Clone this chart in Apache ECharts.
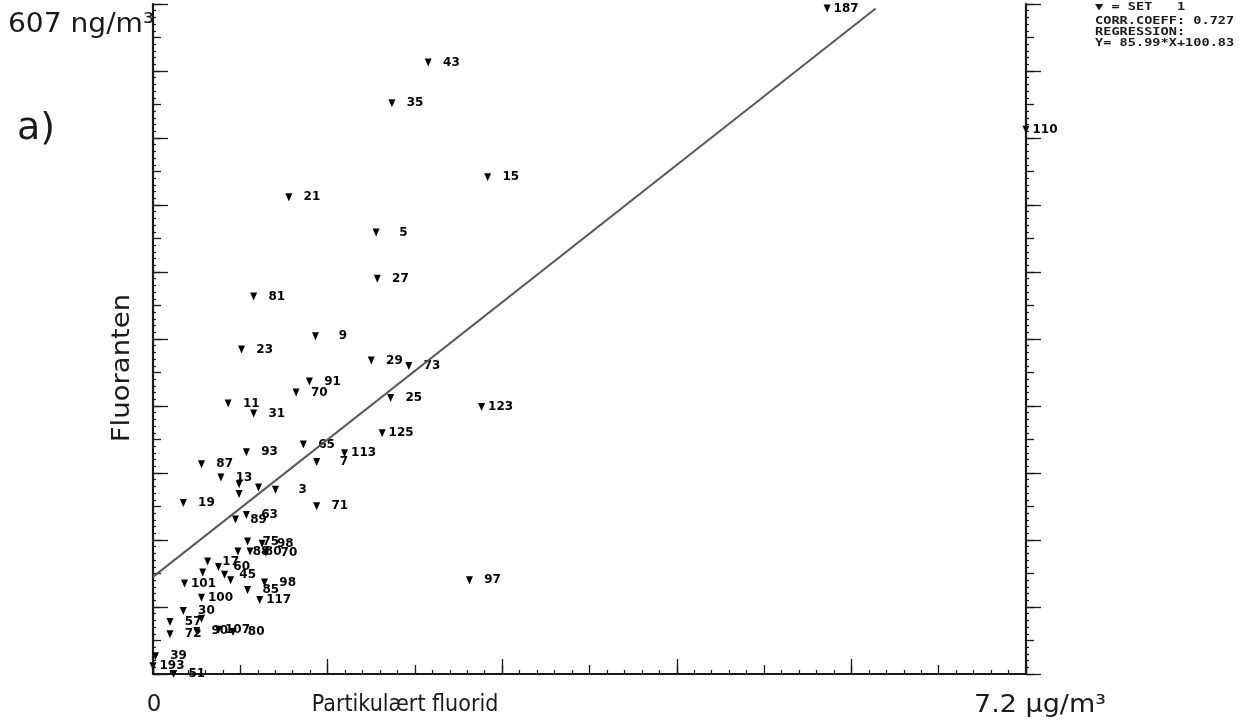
<!DOCTYPE html>
<html>
<head>
<meta charset="utf-8">
<script src="https://cdn.jsdelivr.net/npm/echarts@6/dist/echarts.min.js"></script>
<style>
  html, body { margin: 0; padding: 0; background: #ffffff; }
  #chart { width: 1250px; height: 724px; }
</style>
</head>
<body>
<div id="chart"></div>
<script>
// ---- data ----
const pointLabels = ["187","43","35","110","15","21","5","27","81","9","23","29","73","91","70","11","31","25","123","125","93","65","7","113","87","13","","","","3","19","71","89","63","97","75","98","88","80","70","17","60","","45","101","","85","98","100","117","30","57","72","90","107","80","","39","193","51"];
const pointX = [5.56,2.27,1.97,7.20,2.76,1.12,1.84,1.85,0.83,1.34,0.73,1.80,2.11,1.29,1.18,0.62,0.83,1.96,2.71,1.89,0.77,1.24,1.35,1.58,0.40,0.56,0.71,0.71,0.87,1.01,0.25,1.35,0.68,0.77,2.61,0.78,0.90,0.70,0.80,0.93,0.45,0.54,0.41,0.59,0.26,0.64,0.78,0.92,0.40,0.88,0.25,0.14,0.14,0.36,0.54,0.66,0.40,0.02,0.00,0.17];
const pointY = [603,554,517,493,450,432,400,358,342,306,294,284,279,265,255,245,236,250,242,218,201,208,192,200,190,178,172,163,169,167,155,152,140,144,85,120,118,111,111,110,102,97,92,90,82,85,76,83,69,67,57,47,36,39,40,38,50,16,7,0];
const regressionX = [0, 5.96];
const regressionY = [88, 603];
const xMax = 7.2;
const yMax = 607;
const legendLines = ["\u25BC = SET   1", "CORR.COEFF: 0.727", "REGRESSION:", "Y= 85.99*X+100.83"];

// ---- build ----
const points = pointX.map((x, i) => ({ value: [x, pointY[i]], name: pointLabels[i] }));
const regLine = regressionX.map((x, i) => [x, regressionY[i]]);

const INK = '#1a1a1a';
const chart = echarts.init(document.getElementById('chart'), null, { renderer: 'canvas' });

const baseY = {
  type: 'value', min: 0, max: yMax,
  axisLabel: { show: false }, splitLine: { show: false },
  axisLine: { onZero: false }
};
const baseX = {
  type: 'value', min: 0, max: xMax,
  axisLabel: { show: false }, splitLine: { show: false },
  axisLine: { onZero: false }
};

const option = {
  backgroundColor: '#ffffff',
  animation: false,
  grid: { left: 153, right: 224, top: 4, bottom: 50, containLabel: false },
  xAxis: [
    Object.assign({}, baseX, {
      position: 'bottom', interval: 0.72,
      axisLine: { show: true, onZero: false, lineStyle: { color: INK, width: 2 } },
      axisTick: { show: true, inside: true, length: 9, lineStyle: { color: INK, width: 1.3 } },
      minorTick: { show: true, splitNumber: 5, length: 4, lineStyle: { color: INK, width: 1.2 } }
    }),
    Object.assign({}, baseX, {
      position: 'bottom', interval: 1.44,
      axisLine: { show: false, onZero: false },
      axisTick: { show: true, inside: true, length: 15, lineStyle: { color: INK, width: 1.3 } }
    })
  ],
  yAxis: [
    Object.assign({}, baseY, {
      position: 'left', interval: 30.35,
      axisLine: { show: true, onZero: false, lineStyle: { color: INK, width: 2.2 } },
      axisTick: { show: true, inside: true, length: 8, lineStyle: { color: INK, width: 1.3 } },
      minorTick: { show: true, splitNumber: 5, length: 3, lineStyle: { color: INK, width: 1.2 } }
    }),
    Object.assign({}, baseY, {
      position: 'left', interval: 60.7,
      axisLine: { show: false, onZero: false },
      axisTick: { show: true, inside: true, length: 15, lineStyle: { color: INK, width: 1.3 } }
    }),
    Object.assign({}, baseY, {
      position: 'right', interval: 30.35,
      axisLine: { show: true, onZero: false, lineStyle: { color: INK, width: 2.2 } },
      axisTick: { show: true, inside: false, length: 8, lineStyle: { color: INK, width: 1.3 } },
      minorTick: { show: true, splitNumber: 5, length: 3, lineStyle: { color: INK, width: 1.2 } }
    }),
    Object.assign({}, baseY, {
      position: 'right', interval: 60.7,
      axisLine: { show: false, onZero: false },
      axisTick: { show: true, inside: false, length: 15, lineStyle: { color: INK, width: 1.3 } }
    })
  ],
  series: [
    {
      type: 'line', data: regLine, xAxisIndex: 0, yAxisIndex: 0,
      symbol: 'none', clip: false,
      lineStyle: { color: '#5a5a5a', width: 2 }
    },
    {
      type: 'scatter', data: points, xAxisIndex: 0, yAxisIndex: 0,
      symbol: 'triangle', symbolRotate: 180, symbolSize: [7, 8], clip: false,
      itemStyle: { color: '#000', opacity: 1 },
      label: {
        show: true, position: [35, 4], align: 'right', verticalAlign: 'middle',
        formatter: p => p.name,
        fontFamily: 'DejaVu Sans', fontWeight: 'bold', fontSize: 12, color: '#000', opacity: 1
      }
    }
  ],
  graphic: [
    { type: 'text', left: 8, top: 12, scaleX: 1.08, style: { text: '607 ng/m\u00B3', font: '26px "DejaVu Sans"', fill: INK } },
    { type: 'text', left: 17, top: 110, style: { text: 'a)', font: '38px "DejaVu Sans"', fill: INK } },
    { type: 'text', x: 122, y: 368, rotation: Math.PI / 2, scaleX: 1.1,
      style: { text: 'Fluoranten', font: '25px "DejaVu Sans"', fill: INK, align: 'center', verticalAlign: 'middle' } },
    { type: 'text', x: 154, y: 705, style: { text: '0', font: '23px "DejaVu Sans"', fill: INK, align: 'center', verticalAlign: 'middle' } },
    { type: 'text', x: 405, y: 705, scaleX: 0.9, style: { text: 'Partikulært fluorid', font: '23px "DejaVu Sans"', fill: INK, align: 'center', verticalAlign: 'middle' } },
    { type: 'text', x: 974, y: 705, scaleX: 1.08, style: { text: '7.2 \u03BCg/m\u00B3', font: '25px "DejaVu Sans"', fill: INK, align: 'left', verticalAlign: 'middle' } },
    { type: 'text', x: 1095, y: 7, scaleX: 1.36, scaleY: 1.1, style: { text: legendLines[0], font: 'bold 10px "DejaVu Sans Mono"', fill: INK, verticalAlign: 'middle' } },
    { type: 'text', x: 1095, y: 21, scaleX: 1.36, scaleY: 1.1, style: { text: legendLines[1], font: 'bold 10px "DejaVu Sans Mono"', fill: INK, verticalAlign: 'middle' } },
    { type: 'text', x: 1095, y: 32, scaleX: 1.36, scaleY: 1.1, style: { text: legendLines[2], font: 'bold 10px "DejaVu Sans Mono"', fill: INK, verticalAlign: 'middle' } },
    { type: 'text', x: 1095, y: 43, scaleX: 1.36, scaleY: 1.1, style: { text: legendLines[3], font: 'bold 10px "DejaVu Sans Mono"', fill: INK, verticalAlign: 'middle' } }
  ]
};
chart.setOption(option);
</script>
</body>
</html>
